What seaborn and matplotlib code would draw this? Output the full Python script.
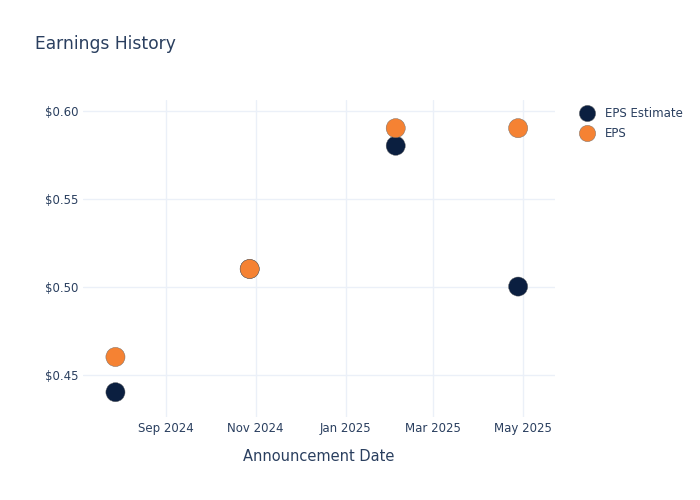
import pandas as pd
import matplotlib
matplotlib.use('Agg')
import matplotlib.pyplot as plt
import matplotlib.dates as mdates
import matplotlib.ticker as mticker
import seaborn as sns

# Dados
datas = ['2024-07-29', '2024-10-28', '2025-02-04', '2025-04-28']
eps_estimado = [0.44, 0.51, 0.58, 0.50]
eps_real = [0.46, 0.51, 0.59, 0.59]

df = pd.DataFrame({
    'Data': pd.to_datetime(datas * 2),
    'Valor': eps_estimado + eps_real,
    'Serie': ['EPS Estimate'] * 4 + ['EPS'] * 4,
})

sns.set_theme(style="white")
plt.rcParams['font.family'] = ['DejaVu Sans']
cor_texto = '#2a3f5f'
cores = {'EPS Estimate': '#0b1f40', 'EPS': '#f58233'}

fig = plt.figure(figsize=(7, 5), dpi=100)
ax = fig.add_axes([83 / 700, 83 / 500, 472 / 700, 317 / 500])

sns.scatterplot(
    data=df, x='Data', y='Valor', hue='Serie', palette=cores,
    hue_order=['EPS Estimate', 'EPS'], s=190, linewidth=0.3,
    edgecolor='#666666', ax=ax, zorder=3
)

ax.set_xlim(pd.Timestamp('2024-07-07'), pd.Timestamp('2025-05-23'))
ax.set_ylim(0.4259, 0.606)
ax.set_yticks([0.45, 0.50, 0.55, 0.60])
ax.yaxis.set_major_formatter(mticker.FuncFormatter(lambda v, p: f'${v:.2f}'))
ax.set_xticks(pd.to_datetime(['2024-09-01', '2024-11-01', '2025-01-01',
                              '2025-03-01', '2025-05-01']))
ax.xaxis.set_major_formatter(mdates.DateFormatter('%b %Y'))

ax.grid(True, color='#ebf0f8', linewidth=1)
for s in ax.spines.values():
    s.set_visible(False)
ax.tick_params(length=0, labelsize=8.5, colors=cor_texto, pad=3.5)
ax.set_xlabel('Announcement Date', fontsize=10.5, color=cor_texto, labelpad=10)
ax.set_ylabel('')

ax.legend_.remove()
handles, labels = ax.get_legend_handles_labels()
fig.legend(handles, labels, loc='upper left', bbox_to_anchor=(0.815, 0.795),
           frameon=False, fontsize=8.5, labelcolor=cor_texto,
           handletextpad=0.5, markerscale=0.85, labelspacing=0.55,
           borderaxespad=0)

fig.text(35 / 700, 1 - 44 / 500, 'Earnings History', fontsize=12.3,
         color=cor_texto, va='center', ha='left')

plt.savefig('out.png', dpi=100)
